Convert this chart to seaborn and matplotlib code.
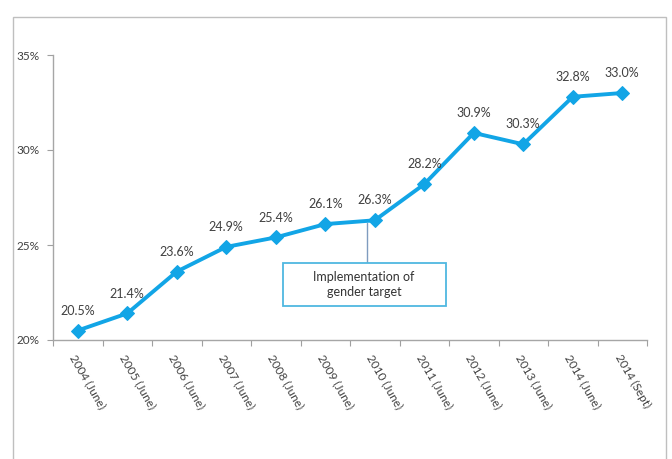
import matplotlib
matplotlib.use("Agg")
import matplotlib.pyplot as plt
import matplotlib.ticker as mticker
from matplotlib.patches import Rectangle
import seaborn as sns
import pandas as pd

categories = ["2004 (June)", "2005 (June)", "2006 (June)", "2007 (June)", "2008 (June)",
              "2009 (June)", "2010 (June)", "2011 (June)", "2012 (June)", "2013 (June)",
              "2014 (June)", "2014 (Sept)"]
values = [20.5, 21.4, 23.6, 24.9, 25.4, 26.1, 26.3, 28.2, 30.9, 30.3, 32.8, 33.0]
y_ticks = [20, 25, 30, 35]
annotation_text = "Implementation of\ngender target"
annotation_index = 6

sns.set_style("white")
plt.rcParams["font.family"] = ["Lato", "DejaVu Sans"]

df = pd.DataFrame({"period": categories, "share": values})

fig = plt.figure(figsize=(6.72, 4.59), dpi=100)
W, H = 672, 459
ax = fig.add_axes([53 / W, 1 - 340 / H, (647 - 53) / W, (340 - 55) / H])

color = "#12a5e6"
sns.lineplot(data=df, x="period", y="share", ax=ax, color=color, linewidth=2.8,
             marker="D", markersize=7, markeredgecolor=color, sort=False)

ax.set_xlim(-0.5, len(categories) - 0.5)
ax.set_ylim(20, 35)
ax.set_yticks(y_ticks)
ax.yaxis.set_major_formatter(mticker.FuncFormatter(lambda v, p: f"{v:.0f}%"))
ax.set_xlabel("")
ax.set_ylabel("")

ax.set_xticks(range(len(categories)))
ax.set_xticklabels(categories, rotation=-60, ha="left", rotation_mode="anchor",
                   fontsize=8.5, color="#404040")
ax.xaxis.set_minor_locator(mticker.FixedLocator([i + 0.5 for i in range(-1, len(categories))]))
ax.tick_params(axis="x", which="major", length=0, pad=9)
ax.tick_params(axis="x", which="minor", length=4, color="#a0a0a0", width=0.8, bottom=True)
ax.tick_params(axis="y", length=4, color="#a0a0a0", width=0.8, left=True,
               labelsize=8.5, labelcolor="#404040", pad=6)

for s in ["top", "right"]:
    ax.spines[s].set_visible(False)
for s in ["left", "bottom"]:
    ax.spines[s].set_color("#a6a6a6")
    ax.spines[s].set_linewidth(1.0)
ax.grid(False)

for i, v in enumerate(values):
    ax.annotate(f"{v:.1f}%", (i, v), xytext=(0, 10), textcoords="offset points",
                ha="center", va="bottom", fontsize=9, color="#404040")

# annotation box with vertical connector
box_x0, box_x1 = 4.14, 7.43
box_y0, box_y1 = 21.79, 24.05
line_x = annotation_index - 0.16
ax.plot([line_x, line_x], [values[annotation_index] - 0.15, box_y1],
        color="#7f9cbf", lw=1.0, zorder=1)
ax.add_patch(Rectangle((box_x0, box_y0), box_x1 - box_x0, box_y1 - box_y0,
                       fc="white", ec="#4fb8e0", lw=1.3, zorder=3))
ax.text((box_x0 + box_x1) / 2, (box_y0 + box_y1) / 2, annotation_text,
        ha="center", va="center", fontsize=9, color="#333333", linespacing=1.25, zorder=4)

# outer frame
fig.add_artist(Rectangle((13 / W, -0.05), (666 - 13) / W, 1 - 17 / H + 0.05,
                         transform=fig.transFigure, fill=False, ec="#bfbfbf", lw=1.0))

fig.savefig("out.png", dpi=100)
